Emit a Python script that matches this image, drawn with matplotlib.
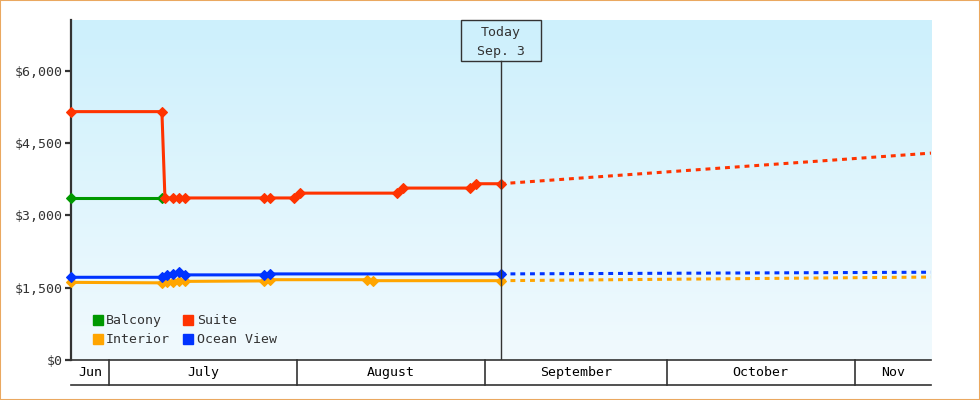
import numpy as np
import matplotlib.pyplot as plt
from matplotlib.patches import Rectangle, Patch
from matplotlib.transforms import blended_transform_factory

plt.rcParams['font.family'] = ['DejaVu Sans Mono']

# x values are days counted from Jul 1
balcony_days = [-6.3, 8.7]
balcony_price = [3360, 3360]

suite_days = [-6.3, 8.7, 9.2, 10.6, 11.6, 12.5, 25.5, 26.5, 30.5, 31.5, 47.5, 48.5, 59.6, 60.6, 64.6]
suite_price = [5150, 5150, 3360, 3360, 3360, 3360, 3360, 3360, 3360, 3460, 3460, 3565, 3565, 3655, 3655]

ocean_days = [-6.3, 8.7, 9.6, 10.6, 11.6, 12.5, 25.5, 26.5, 64.6]
ocean_price = [1715, 1715, 1765, 1780, 1820, 1765, 1765, 1785, 1785]

interior_days = [-6.3, 8.7, 9.6, 10.6, 11.6, 12.5, 25.5, 26.5, 42.5, 43.6, 64.6]
interior_price = [1610, 1600, 1625, 1625, 1640, 1630, 1640, 1665, 1665, 1645, 1645]

today = 64.6
end_day = 135.6
forecast_days = [today, end_day]
suite_forecast = [3655, 4290]
ocean_forecast = [1785, 1820]
interior_forecast = [1645, 1720]

month_names = ['Jun', 'July', 'August', 'September', 'October', 'Nov']
month_starts = [-6.3, 0, 31, 62, 92, 123]

y_ticks = [0, 1500, 3000, 4500, 6000]

colors = {'Balcony': '#009900', 'Suite': '#ff3300',
          'Interior': '#ffa500', 'Ocean View': '#0033ff'}
dark = '#333333'

fig = plt.figure(figsize=(9.8, 4), dpi=100)
ax = fig.add_axes([71 / 980, 40 / 400, 860 / 980, 340 / 400])

# gradient background
grad = np.linspace(0, 1, 256).reshape(-1, 1)
top = np.array([205, 240, 252]) / 255
bot = np.array([241, 250, 254]) / 255
img = top + (bot - top) * grad[:, :, None]
ax.imshow(img, extent=[0, 1, 0, 1], transform=ax.transAxes, aspect='auto', zorder=0)

ax.set_xlim(-6.3, end_day)
ax.set_ylim(0, 7050)

series = [
    ('Interior', interior_days, interior_price, interior_forecast),
    ('Balcony', balcony_days, balcony_price, None),
    ('Ocean View', ocean_days, ocean_price, ocean_forecast),
    ('Suite', suite_days, suite_price, suite_forecast),
]
for i, (name, d, p, fc) in enumerate(series):
    c = colors[name]
    if fc is not None:
        ax.plot(forecast_days, fc, color=c, lw=2.2, linestyle=(0, (1.6, 1.6)),
                zorder=2 + i)
    ax.plot(d, p, color=c, lw=2.2, marker='D', ms=5, mew=0.8, mec=c,
            clip_on=False, zorder=3 + i)

# today marker
bt = blended_transform_factory(ax.transData, ax.transAxes)
ax.plot([today, today], [0, 0.879], color=dark, lw=1, transform=bt, zorder=10)
ax.add_patch(Rectangle((today - 6.6, 0.879), 13.2, 0.121, transform=bt,
                       fill=False, edgecolor=dark, lw=1, zorder=10, clip_on=False))
ax.text(today, 0.962, 'Today', transform=bt, ha='center', va='center',
        fontsize=9.5, color=dark, zorder=11)
ax.text(today, 0.908, 'Sep. 3', transform=bt, ha='center', va='center',
        fontsize=9.5, color=dark, zorder=11)

# axes styling
for s in ['top', 'right']:
    ax.spines[s].set_visible(False)
ax.spines['left'].set_color(dark)
ax.spines['left'].set_linewidth(1.6)
ax.spines['bottom'].set_color(dark)
ax.spines['bottom'].set_linewidth(1.2)
ax.set_xticks([])
ax.set_yticks(y_ticks)
ax.set_yticklabels(['${:,.0f}'.format(v) for v in y_ticks])
ax.tick_params(axis='y', direction='out', length=4, width=1.6, color=dark,
               labelcolor=dark, labelsize=9.5, pad=2)

# month band under the axis
band = -25 / 340
ax.plot([-6.3, end_day], [band, band], color=dark, lw=1.2, transform=bt, clip_on=False)
edges = month_starts[1:] + [end_day]
for i, name in enumerate(month_names):
    if i > 0:
        ax.plot([month_starts[i]] * 2, [0, band], color=dark, lw=1.2,
                transform=bt, clip_on=False)
    mid = (month_starts[i] + edges[i]) / 2
    ax.text(mid, band / 2, name, transform=bt, ha='center', va='center',
            fontsize=9.5, color='black')

# legend
handles = [Patch(color=colors[n]) for n in ['Balcony', 'Interior', 'Suite', 'Ocean View']]
labels = ['Balcony', 'Interior', 'Suite', 'Ocean View']
leg = ax.legend(handles, labels, ncol=2, loc='lower left',
                bbox_to_anchor=(0.025, 0.04), frameon=False, fontsize=9.5,
                handlelength=0.76, handleheight=0.76, handletextpad=0.28,
                columnspacing=1.0, labelspacing=0.45, borderpad=0, borderaxespad=0)
for t in leg.get_texts():
    t.set_color(dark)

# outer border
fig.patches.append(Rectangle((0, 0), 1, 1, transform=fig.transFigure, fill=False,
                             edgecolor='#eaa860', lw=1.5))

plt.savefig('out.png', dpi=100)
